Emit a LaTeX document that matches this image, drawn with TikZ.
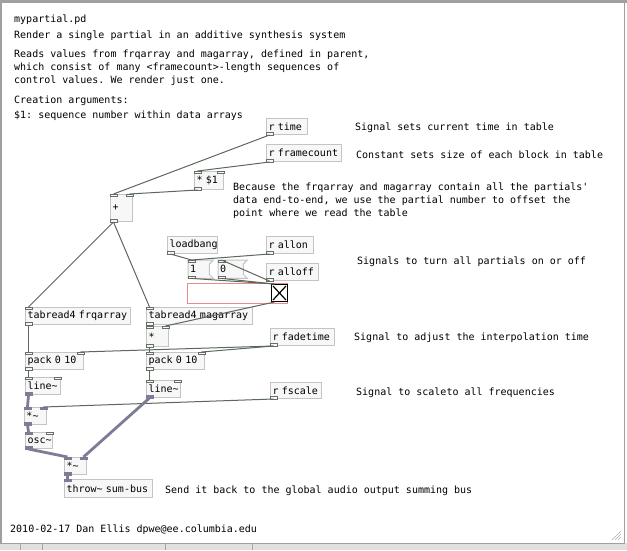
\documentclass[tikz,border=0pt]{standalone}
\usepackage{fontspec}
\newfontfamily\pdmono{DejaVu Sans Mono}[WordSpace={1,0,0}]
\usetikzlibrary{calc}
\definecolor{boxc}{RGB}{196,196,196}
\definecolor{boxf}{RGB}{247,247,247}
\definecolor{ioc}{RGB}{100,112,100}
\definecolor{ctlc}{RGB}{92,104,92}
\definecolor{sigc}{RGB}{124,124,148}
\definecolor{pinkc}{RGB}{232,140,140}
\definecolor{framec}{RGB}{160,160,160}
\newcommand{\pdf}{\pdmono\fontsize{10}{13}\selectfont\frenchspacing}
\newcommand{\T}[1]{\mbox{#1}}
\newcommand{\inl}[2]{\draw[#2] ($(#1.north west)$) rectangle ++(7,2.5);}
\newcommand{\inr}[2]{\draw[#2] ($(#1.north east)+(-7,0)$) rectangle ++(7,2.5);}
\newcommand{\outl}[2]{\draw[#2] ($(#1.south west)+(0,-2.5)$) rectangle ++(7,2.5);}
\tikzset{
  x=1pt, y=-1pt,
  obj/.style={draw=boxc, fill=boxf, line width=1pt, anchor=north west,
    inner xsep=2pt, inner ysep=0pt, align=left, font=\pdf},
  msgtxt/.style={anchor=north west, inner xsep=2pt, inner ysep=0pt, font=\pdf, minimum height=18, align=left},
  cmt/.style={anchor=base west, inner sep=0pt, font=\pdf},
  cio/.style={draw=ioc, fill=boxf, line width=0.8pt},
  sio/.style={draw=sigc, fill=sigc, line width=0.8pt},
  ctl/.style={draw=ctlc, line width=1pt},
  sig/.style={draw=sigc, line width=2.8pt},
}
\begin{document}
\begin{tikzpicture}
\useasboundingbox (0,0) rectangle (627,550);
% window frame
\fill[white] (0,0) rectangle (627,550);
\fill[framec] (0,0) rectangle (627,3);
\fill[framec] (0,0) rectangle (1.5,543);
\fill[framec] (623.5,0) rectangle (625,543);
\fill[black!12] (0,543) rectangle (627,550);
\draw[framec, line width=1pt] (0,543) -- (625,543);
\draw[black!35] (20,544) -- (20,550) (42,544) -- (42,550) (165,544) -- (165,550) (252,544) -- (252,550);
\draw[black!30, line width=0.6pt] (612,540) -- (621,531) (615,540) -- (621,534) (618,540) -- (621,537);

% comments
\node[cmt] (c1) at (14,22) {mypartial.pd};
\node[cmt] (c2) at (14,38) {Render a single partial in an additive synthesis system};
\node[cmt] (c3a) at (14,57) {Reads values from frqarray and magarray, defined in parent,};
\node[cmt] (c3b) at (14,70) {which consist of many <framecount>-length sequences of};
\node[cmt] (c3c) at (14,83) {control values. We render just one.};
\node[cmt] (c4a) at (14,103) {Creation arguments:};
\node[cmt] (c4b) at (14,118) {\$1: sequence number within data arrays};
\node[cmt] (c5) at (355,130) {Signal sets current time in table};
\node[cmt] (c6) at (356,158) {Constant sets size of each block in table};
\node[cmt] (c7a) at (233,190) {Because the frqarray and magarray contain all the partials'};
\node[cmt] (c7b) at (233,203) {data end-to-end, we use the partial number to offset the};
\node[cmt] (c7c) at (233,216) {point where we read the table};
\node[cmt] (c8) at (357,264) {Signals to turn all partials on or off};
\node[cmt] (c9) at (354,340) {Signal to adjust the interpolation time};
\node[cmt] (c10) at (356,395) {Signal to scaleto all frequencies};
\node[cmt] (c11) at (165,493) {Send it back to the global audio output summing bus};
\node[cmt] (c12) at (10,532) {2010-02-17 Dan Ellis dpwe@ee.columbia.edu};

% objects
\node[obj, text width=37, minimum height=16] (time) at (266,118) {\T{r time}};
\node[obj, text width=71, minimum height=17] (fcount) at (266,144) {\T{r framecount}};
\node[obj, text width=25, minimum height=18] (mula) at (194,171) {\T{* \$1}};
\node[obj, text width=18, minimum height=27] (plus) at (110,194) {+};
\node[obj, text width=46, minimum height=17] (lb) at (167,236) {\T{loadbang}};
\node[obj, text width=43, minimum height=17] (allon) at (266,236) {\T{r allon}};
\node[obj, text width=48, minimum height=17] (alloff) at (266,263) {\T{r alloff}};
% message boxes
\node[msgtxt, text width=17] (m1) at (188,260) {1};
\node[msgtxt, text width=21] (m0) at (218,260) {0};
\foreach \m in {m1,m0}{
  \draw[boxc, fill=boxf, line width=1pt] (\m.north west) -- ($(\m.north east)+(4,0)$) -- ($(\m.north east)+(0,4)$) -- ($(\m.south east)+(0,-4)$) -- ($(\m.south east)+(4,0)$) -- (\m.south west) -- cycle;
}
\node[msgtxt, text width=17] at (m1.north west) {1};
\node[msgtxt, text width=21] at (m0.north west) {0};
% pink area and toggle
\node[draw=pinkc, line width=1pt, anchor=north west, minimum width=100, minimum height=20, inner sep=0pt] (gop) at (187,283) {};
\node[draw=black, fill=white, line width=1pt, anchor=north west, minimum width=16, minimum height=17, inner sep=0pt] (tgl) at (271,284) {};
\draw[black, line width=1.2pt] ($(tgl.north west)+(2,2)$) -- ($(tgl.south east)+(-2,-2)$);
\draw[black, line width=1.2pt] ($(tgl.north east)+(-2,2)$) -- ($(tgl.south west)+(2,-2)$);

\node[obj, text width=101, minimum height=17] (tabf) at (25,307) {\T{tabread4 frqarray}};
\node[obj, text width=102, minimum height=17] (tabm) at (146,307) {\T{tabread4 magarray}};
\node[obj, text width=18, minimum height=20] (mulb) at (146,326) {*};
\node[obj, text width=60, minimum height=17] (fade) at (270,328) {\T{r fadetime}};
\node[obj, text width=54, minimum height=17] (packl) at (25,352) {\T{pack 0 10}};
\node[obj, text width=54, minimum height=17] (packr) at (146,352) {\T{pack 0 10}};
\node[obj, text width=31, minimum height=17] (linel) at (25,377) {line\char`\~};
\node[obj, text width=30, minimum height=17] (liner) at (146,380) {line\char`\~};
\node[obj, text width=47, minimum height=16] (fscale) at (270,382) {\T{r fscale}};
\node[obj, text width=18, minimum height=17] (mulsl) at (24,407) {*\char`\~};
\node[obj, text width=23, minimum height=16] (osc) at (25,432) {osc\char`\~};
\node[obj, text width=18, minimum height=17] (mulsb) at (64,457) {*\char`\~};
\node[obj, text width=84, minimum height=18] (throw) at (64,479) {\T{throw\char`\~{} sum-bus}};

% inlets / outlets
\outl{time}{cio}
\outl{fcount}{cio}
\inl{mula}{cio}\inr{mula}{cio}\outl{mula}{cio}
\inl{plus}{cio}\inr{plus}{cio}\outl{plus}{cio}
\outl{lb}{cio}\outl{allon}{cio}\outl{alloff}{cio}
\inl{m1}{cio}\outl{m1}{cio}
\inl{m0}{cio}\outl{m0}{cio}
\inl{tabf}{cio}\outl{tabf}{cio}
\inl{tabm}{cio}\outl{tabm}{cio}
\inl{mulb}{cio}\inr{mulb}{cio}\outl{mulb}{cio}
\outl{fade}{cio}\outl{fscale}{cio}
\inl{packl}{cio}\inr{packl}{cio}\outl{packl}{cio}
\inl{packr}{cio}\inr{packr}{cio}\outl{packr}{cio}
\inl{linel}{cio}\inr{linel}{cio}\outl{linel}{sio}
\inl{liner}{cio}\inr{liner}{cio}\outl{liner}{sio}
\inl{mulsl}{sio}\inr{mulsl}{sio}\outl{mulsl}{sio}
\inl{osc}{sio}\inr{osc}{cio}\outl{osc}{sio}
\inl{mulsb}{sio}\inr{mulsb}{sio}\outl{mulsb}{sio}
\inl{throw}{sio}

% control connections
\draw[ctl] ($(time.south west)+(3.5,0)$) -- ($(plus.north west)+(3.5,0)$);
\draw[ctl] ($(fcount.south west)+(3.5,0)$) -- ($(mula.north west)+(3.5,0)$);
\draw[ctl] ($(mula.south west)+(3.5,0)$) -- ($(plus.north east)+(-3.5,0)$);
\draw[ctl] ($(plus.south west)+(3.5,0)$) -- ($(tabf.north west)+(3.5,0)$);
\draw[ctl] ($(plus.south west)+(3.5,0)$) -- ($(tabm.north west)+(3.5,0)$);
\draw[ctl] ($(lb.south west)+(3.5,0)$) -- ($(m1.north west)+(3.5,0)$);
\draw[ctl] ($(allon.south west)+(3.5,0)$) -- ($(m1.north west)+(3.5,0)$);
\draw[ctl] ($(alloff.south west)+(3.5,0)$) -- ($(m0.north west)+(3.5,0)$);
\draw[ctl] ($(m1.south west)+(3.5,0)$) -- ($(tgl.north west)+(3.5,0)$);
\draw[ctl] ($(m0.south west)+(3.5,0)$) -- ($(tgl.north west)+(3.5,0)$);
\draw[ctl] ($(tgl.south west)+(3.5,0)$) -- ($(mulb.north east)+(-3.5,0)$);
\draw[ctl] ($(tabf.south west)+(3.5,0)$) -- ($(packl.north west)+(3.5,0)$);
\draw[ctl] ($(tabm.south west)+(3.5,0)$) -- ($(mulb.north west)+(3.5,0)$);
\draw[ctl] ($(mulb.south west)+(3.5,0)$) -- ($(packr.north west)+(3.5,0)$);
\draw[ctl] ($(fade.south west)+(3.5,0)$) -- ($(packl.north east)+(-3.5,0)$);
\draw[ctl] ($(fade.south west)+(3.5,0)$) -- ($(packr.north east)+(-3.5,0)$);
\draw[ctl] ($(packl.south west)+(3.5,0)$) -- ($(linel.north west)+(3.5,0)$);
\draw[ctl] ($(packr.south west)+(3.5,0)$) -- ($(liner.north west)+(3.5,0)$);
\draw[ctl] ($(fscale.south west)+(3.5,0)$) -- ($(mulsl.north east)+(-3.5,0)$);
% signal connections
\draw[sig] ($(linel.south west)+(3.5,0)$) -- ($(mulsl.north west)+(3.5,0)$);
\draw[sig] ($(mulsl.south west)+(3.5,0)$) -- ($(osc.north west)+(3.5,0)$);
\draw[sig] ($(osc.south west)+(3.5,0)$) -- ($(mulsb.north west)+(3.5,0)$);
\draw[sig] ($(liner.south west)+(3.5,0)$) -- ($(mulsb.north east)+(-3.5,0)$);
\draw[sig] ($(mulsb.south west)+(3.5,0)$) -- ($(throw.north west)+(3.5,0)$);
\end{tikzpicture}
\end{document}
